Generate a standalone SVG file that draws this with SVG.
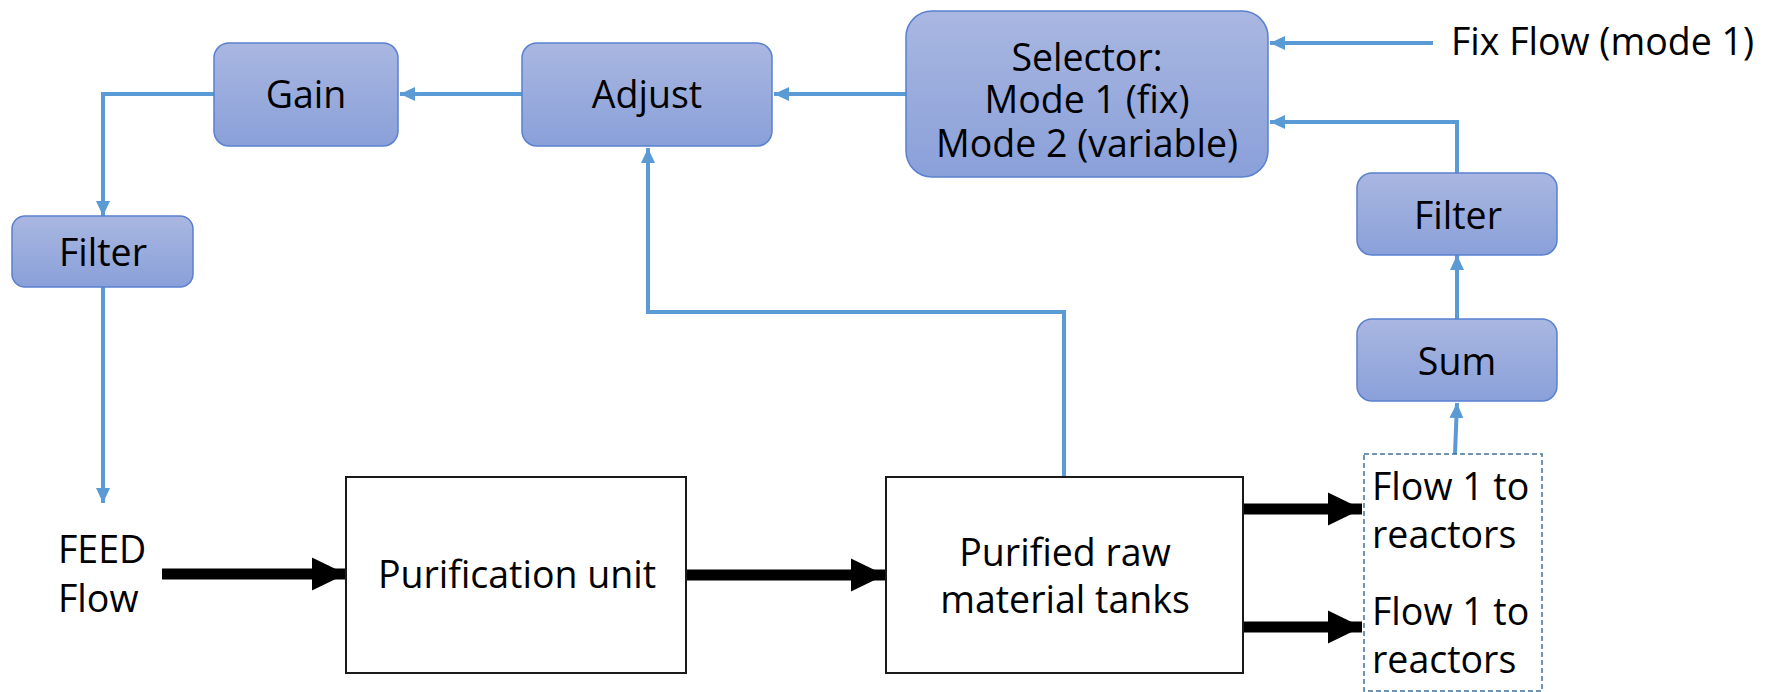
<svg xmlns="http://www.w3.org/2000/svg" width="1775" height="692" viewBox="0 0 1775 692">
  <style>
    .blk { fill: url(#boxGrad); stroke: #5A80CF; stroke-width: 1.5; }
    .plain { fill: #ffffff; stroke: #1a1a1a; stroke-width: 2; }
    .lbl { font-family: "Open Sans", "Noto Sans", sans-serif; font-size: 37.5px; fill: #000000; }
    .mid { text-anchor: middle; }
    .sig { fill: none; stroke: #5B9BD5; stroke-width: 4; }
    .flow { fill: none; stroke: #000000; stroke-width: 11; }
  </style>
  <defs>
    <linearGradient id="boxGrad" x1="0" y1="0" x2="0" y2="1">
      <stop offset="0" stop-color="#A9B7E1"/>
      <stop offset="1" stop-color="#8AA0D9"/>
    </linearGradient>
    <marker id="blueHead" markerUnits="userSpaceOnUse" markerWidth="16" markerHeight="16" viewBox="0 0 16 16" refX="15" refY="8" orient="auto">
      <path d="M0,1 L15,8 L0,15 Z" fill="#5B9BD5"/>
    </marker>
    <marker id="blackHead" markerUnits="userSpaceOnUse" markerWidth="36" markerHeight="36" viewBox="0 0 36 36" refX="34" refY="18" orient="auto">
      <path d="M0,1.5 L34,18 L0,34.5 Z" fill="#000000"/>
    </marker>
  </defs>

  <!-- connectors -->
  <g id="connectors">
    <path class="sig" d="M1433,43 L1270,43" marker-end="url(#blueHead)"/>
    <path class="sig" d="M1457,173 L1457,122 L1270,122" marker-end="url(#blueHead)"/>
    <path class="sig" d="M906,94 L774,94" marker-end="url(#blueHead)"/>
    <path class="sig" d="M522,94 L400,94" marker-end="url(#blueHead)"/>
    <path class="sig" d="M214,94 L103,94 L103,216" marker-end="url(#blueHead)"/>
    <path class="sig" d="M103,287 L103,503" marker-end="url(#blueHead)"/>
    <path class="sig" d="M1064,477 L1064,312 L648,312 L648,148" marker-end="url(#blueHead)"/>
    <path class="sig" d="M1457,401 L1457,255" marker-end="url(#blueHead)"/>
    <path class="sig" d="M1455,454 L1457,403" marker-end="url(#blueHead)"/>
    <path class="flow" d="M162,574 L346,574" marker-end="url(#blackHead)"/>
    <path class="flow" d="M687,575 L885,575" marker-end="url(#blackHead)"/>
    <path class="flow" d="M1244,509 L1362,509" marker-end="url(#blackHead)"/>
    <path class="flow" d="M1244,627 L1362,627" marker-end="url(#blackHead)"/>
  </g>

  <g id="gain">
    <rect class="blk" x="214" y="43" width="184" height="103" rx="15"/>
    <text class="lbl mid" x="306" y="108">Gain</text>
  </g>

  <g id="adjust">
    <rect class="blk" x="522" y="43" width="250" height="103" rx="15"/>
    <text class="lbl mid" x="647" y="108">Adjust</text>
  </g>

  <g id="selector">
    <rect class="blk" x="906" y="11" width="362" height="166" rx="26"/>
    <text class="lbl mid" x="1087" y="71">Selector:</text>
    <text class="lbl mid" x="1087" y="113">Mode 1 (fix)</text>
    <text class="lbl mid" x="1087" y="157">Mode 2 (variable)</text>
  </g>

  <g id="fix-flow">
    <text class="lbl" x="1451" y="55">Fix Flow (mode 1)</text>
  </g>

  <g id="filter-left">
    <rect class="blk" x="12" y="216" width="181" height="71" rx="13"/>
    <text class="lbl mid" x="103" y="266">Filter</text>
  </g>

  <g id="filter-right">
    <rect class="blk" x="1357" y="173" width="200" height="82" rx="15"/>
    <text class="lbl mid" x="1458" y="229">Filter</text>
  </g>

  <g id="sum">
    <rect class="blk" x="1357" y="319" width="200" height="82" rx="15"/>
    <text class="lbl mid" x="1457" y="375">Sum</text>
  </g>

  <g id="feed">
    <text class="lbl" x="58" y="563">FEED</text>
    <text class="lbl" x="58" y="612">Flow</text>
  </g>

  <g id="purification">
    <rect class="plain" x="346" y="477" width="340" height="196"/>
    <text class="lbl mid" x="517" y="588">Purification unit</text>
  </g>

  <g id="tanks">
    <rect class="plain" x="886" y="477" width="357" height="196"/>
    <text class="lbl mid" x="1065" y="566">Purified raw</text>
    <text class="lbl mid" x="1065" y="613">material tanks</text>
  </g>

  <g id="reactors">
    <rect x="1364" y="454" width="178" height="237" fill="none" stroke="#41719C" stroke-width="1.5" stroke-dasharray="5,3"/>
    <text class="lbl" x="1372" y="500">Flow 1 to</text>
    <text class="lbl" x="1372" y="548">reactors</text>
    <text class="lbl" x="1372" y="625">Flow 1 to</text>
    <text class="lbl" x="1372" y="673">reactors</text>
  </g>
</svg>
